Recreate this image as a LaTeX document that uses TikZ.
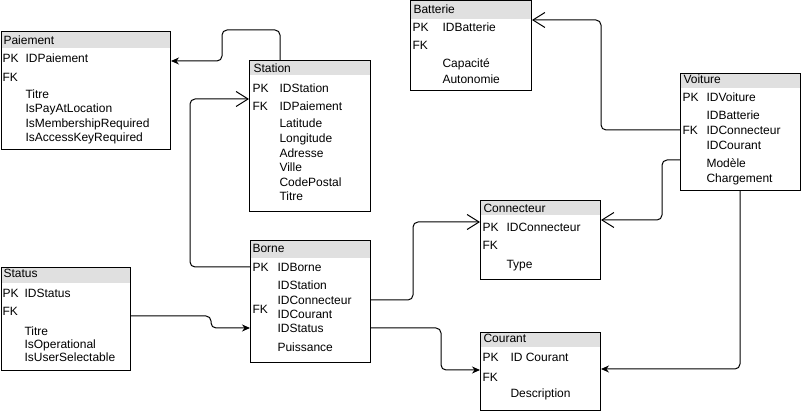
\documentclass[tikz,border=0pt]{standalone}
\usepackage{fontspec}
\setmainfont{Liberation Sans}
\usepackage{tikz}
\usetikzlibrary{positioning, calc, arrows.meta}
\definecolor{gristitre}{RGB}{224,224,224}

\begin{document}
\begin{tikzpicture}[x=1pt, y=-1pt, >={Stealth[length=8pt, width=7pt]}, line width=1pt, font=\fontsize{12pt}{14pt}\selectfont,
	entite/.style={draw, inner sep=0pt, anchor=north west, path picture={\fill[gristitre] (path picture bounding box.north west) rectangle ([yshift=-#1]path picture bounding box.north east);}},
	entite/.default=16pt,
	champ/.style={anchor=west, inner sep=0pt, text height=8.6pt, text depth=0pt},
	lien/.style={rounded corners=5pt},
	ouverte/.style={-{Straight Barb[length=12pt, width=15pt]}} ]
	\useasboundingbox (0,0) rectangle (801,411);

	%Tables: (nom) at (coin haut gauche)
	\node[entite=17pt, minimum width=169pt, minimum height=118pt]	(paiement)   at (1,31)     {};
	\node[entite=15pt, minimum width=121pt, minimum height=151pt]	(station)    at (249,60)   {};
	\node[entite=18pt, minimum width=121pt, minimum height=90pt]	(batterie)   at (410,0.5)  {};
	\node[entite=15pt, minimum width=120pt, minimum height=117pt]	(voiture)    at (680,73)   {};
	\node[entite=16pt, minimum width=129pt, minimum height=103pt]	(status)     at (1,267)    {};
	\node[entite=18pt, minimum width=120pt, minimum height=122pt]	(borne)      at (250,240)  {};
	\node[entite=15pt, minimum width=120pt, minimum height=79pt]	(connecteur) at (480,200)  {};
	\node[entite=15pt, minimum width=120pt, minimum height=78pt]	(courant)    at (480,332)  {};

	%Paiement
	\node[champ] (paiementT)     at (3,40)   {Paiement};
	\node[champ] (paiementPK)    at (2,58)   {PK};
	\node[champ] (paiementID)    at (25,58)  {IDPaiement};
	\node[champ] (paiementFK)    at (2,77)   {FK};
	\node[champ] (paiementTitre) at (25,94)  {Titre};
	\node[champ] (paiementLoc)   at (25,108) {IsPayAtLocation};
	\node[champ] (paiementMemb)  at (25,123) {IsMembershipRequired};
	\node[champ] (paiementCle)   at (25,137) {IsAccessKeyRequired};

	%Station
	\node[champ] (stationT)      at (253,68)  {Station};
	\node[champ] (stationPK)     at (252,88)  {PK};
	\node[champ] (stationID)     at (279,88)  {IDStation};
	\node[champ] (stationFK)     at (252,106) {FK};
	\node[champ] (stationIDP)    at (279,106) {IDPaiement};
	\node[champ] (stationLat)    at (279,123) {Latitude};
	\node[champ] (stationLong)   at (279,138) {Longitude};
	\node[champ] (stationAdr)    at (279,153) {Adresse};
	\node[champ] (stationVille)  at (279,167) {Ville};
	\node[champ] (stationCP)     at (279,182) {CodePostal};
	\node[champ] (stationTitre)  at (279,196) {Titre};

	%Batterie
	\node[champ] (batterieT)     at (413,9)  {Batterie};
	\node[champ] (batteriePK)    at (412,27) {PK};
	\node[champ] (batterieID)    at (442,27) {IDBatterie};
	\node[champ] (batterieFK)    at (412,45) {FK};
	\node[champ] (batterieCap)   at (442,63) {Capacité};
	\node[champ] (batterieAuto)  at (442,79) {Autonomie};

	%Voiture
	\node[champ] (voitureT)      at (683,79)  {Voiture};
	\node[champ] (voiturePK)     at (682,97)  {PK};
	\node[champ] (voitureID)     at (706,97)  {IDVoiture};
	\node[champ] (voitureIDB)    at (706,115) {IDBatterie};
	\node[champ] (voitureFK)     at (682,130) {FK};
	\node[champ] (voitureIDC)    at (706,130) {IDConnecteur};
	\node[champ] (voitureIDCo)   at (706,145) {IDCourant};
	\node[champ] (voitureModele) at (706,163) {Modèle};
	\node[champ] (voitureCharge) at (706,178) {Chargement};

	%Status
	\node[champ] (statusT)       at (3,273)  {Status};
	\node[champ] (statusPK)      at (2,293)  {PK};
	\node[champ] (statusID)      at (24,293) {IDStatus};
	\node[champ] (statusFK)      at (2,311)  {FK};
	\node[champ] (statusTitre)   at (24,331) {Titre};
	\node[champ] (statusOp)      at (24,344) {IsOperational};
	\node[champ] (statusSel)     at (24,357) {IsUserSelectable};

	%Borne
	\node[champ] (borneT)        at (252,248) {Borne};
	\node[champ] (bornePK)       at (252,267) {PK};
	\node[champ] (borneID)       at (277,267) {IDBorne};
	\node[champ] (borneIDS)      at (277,285) {IDStation};
	\node[champ] (borneIDC)      at (277,300) {IDConnecteur};
	\node[champ] (borneFK)       at (252,309) {FK};
	\node[champ] (borneIDCo)     at (277,314) {IDCourant};
	\node[champ] (borneIDSt)     at (277,328) {IDStatus};
	\node[champ] (bornePuiss)    at (277,347) {Puissance};

	%Connecteur
	\node[champ] (connecteurT)   at (483,208) {Connecteur};
	\node[champ] (connecteurPK)  at (482,227) {PK};
	\node[champ] (connecteurID)  at (506,227) {IDConnecteur};
	\node[champ] (connecteurFK)  at (482,245) {FK};
	\node[champ] (connecteurType) at (506,264) {Type};

	%Courant
	\node[champ] (courantT)      at (483,338) {Courant};
	\node[champ] (courantPK)     at (482,357) {PK};
	\node[champ] (courantID)     at (510,357) {ID Courant};
	\node[champ] (courantFK)     at (482,377) {FK};
	\node[champ] (courantDesc)   at (510,393) {Description};

	%Liens:
	%(depart) -- (coude) |- (arrivee)
	\draw[lien, ->]      ([xshift=31pt]station.north west) -- ++(0,-30) -| ++(-58,31) -- ($(paiement.east |- paiementPK)+(0,3)$);
	\draw[lien, ouverte] (borne.west |- bornePK) -- ++(-60,0) |- ($(station.west |- stationFK)+(0,-7)$);
	\draw[lien, ->]      ($(status.east |- statusFK)+(0,5)$) -- ++(80,0) |- (borne.west |- borneIDSt);
	\draw[lien, ouverte] (borne.east |- borneIDC) -- ++(42,0) |- ($(connecteur.west |- connecteurPK)+(0,-5)$);
	\draw[lien, ->]      (borne.east |- borneIDSt) -- ++(70,0) |- ($(courant.west |- courantFK)+(0,-7)$);
	\draw[lien, ouverte] (voiture.west |- voitureFK) -- ++(-79,0) |- ($(batterie.east |- batteriePK)+(0,-7)$);
	\draw[lien, ouverte] ($(voiture.west |- voitureModele)+(0,-3)$) -- ++(-18,0) |- ($(connecteur.east |- connecteurPK)+(0,-7)$);
	\draw[lien, ->]      ([xshift=60pt]voiture.south west) |- ($(courant.east |- courantFK)+(0,-8)$);
\end{tikzpicture}
\end{document}
